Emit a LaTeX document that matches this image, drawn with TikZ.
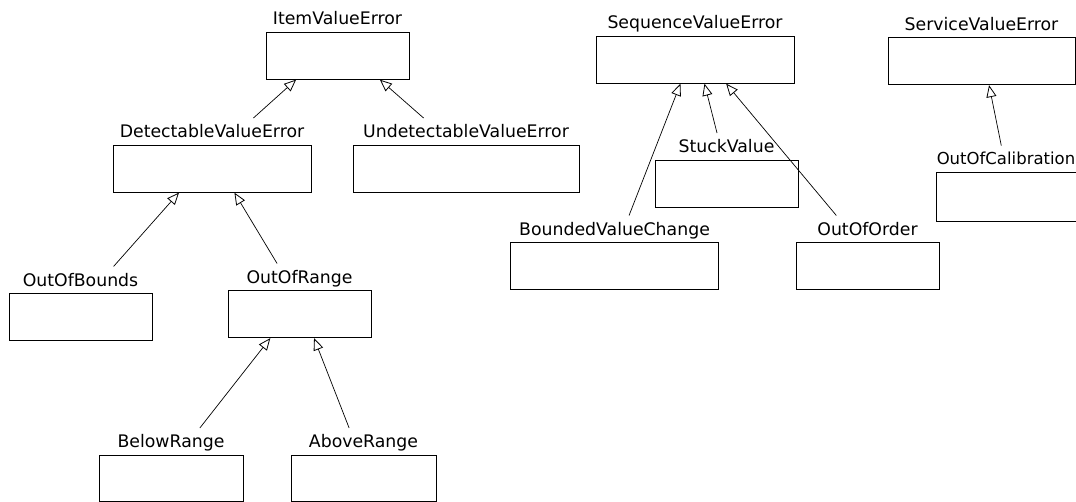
\documentclass[tikz,border=0pt]{standalone}
\usepackage{fontspec}
\setmainfont{DejaVu Sans}
\usetikzlibrary{arrows.meta,fit}
\tikzset{
  clsbox/.style={draw, rectangle, inner sep=0pt, line width=0.9pt, fill=white},
  clslbl/.style={inner xsep=0pt, inner ysep=6pt, anchor=base, font=\fontsize{17.3}{20}\selectfont},
  clsfit/.style={inner sep=0pt},
  gen/.style={line width=0.7pt, -{Triangle[open,length=12pt,width=10pt,line width=0.8pt]}}
}
\newcommand\umlclass[6]{%
  \node[clsbox, minimum width=#4pt, minimum height=#5pt] (#1) at (#2,#3) {};
  \node[clslbl, yshift=7pt] (#1-l) at (#1.north) {#6};
  \node[clsfit, fit=(#1)(#1-l)] (#1-f) {};
}
\begin{document}
\begin{tikzpicture}[x=1pt,y=-1pt]
\clip (0,0) rectangle (1076,502);
\fill[white] (0,0) rectangle (1076,502);
% left hierarchy
\umlclass{ive}{337.5}{55.5}{143}{47}{ItemValueError}
\umlclass{dve}{212}{168.5}{198}{47}{DetectableValueError}
\umlclass{uve}{466}{168.5}{226}{47}{UndetectableValueError}
\umlclass{oob}{80.5}{317}{143}{47}{OutOfBounds}
\umlclass{oor}{299.5}{314}{143}{47}{OutOfRange}
\umlclass{br}{171}{478}{144}{46}{BelowRange}
\umlclass{ar}{363.5}{478}{145}{46}{AboveRange}
% sequence hierarchy
\umlclass{sve}{695}{59.5}{198}{47}{SequenceValueError}
\umlclass{sv}{726.5}{183.5}{143}{47}{StuckValue}
\umlclass{bvc}{614.5}{266}{208}{47}{BoundedValueChange}
\umlclass{ooo}{867.5}{266}{143}{47}{OutOfOrder}
% service hierarchy
\umlclass{srv}{981.5}{61}{187}{47}{ServiceValueError}
\node[clsbox, minimum width=146pt, minimum height=49pt] (ooc) at (1009,196.5) {};
\node[clslbl, anchor=base west, font=\fontsize{16.5}{20}\selectfont, yshift=7pt, xshift=1pt] (ooc-l) at (ooc.north west) {OutOfCalibration};
\node[clsfit, fit=(ooc)(ooc-l)] (ooc-f) {};
% generalisations
\draw[gen] (dve-f) -- (ive-f);
\draw[gen] (uve-f) -- (ive-f);
\draw[gen] (oob-f) -- (dve-f);
\draw[gen] (oor-f) -- (dve-f);
\draw[gen] (br-f) -- (oor-f);
\draw[gen] (ar-f) -- (oor-f);
\draw[gen] (bvc-f) -- (sve-f);
\draw[gen] (sv-f) -- (sve-f);
\draw[gen] (ooo-f) -- (sve-f);
\draw[gen] (ooc-f) -- (srv-f);
\end{tikzpicture}
\end{document}
